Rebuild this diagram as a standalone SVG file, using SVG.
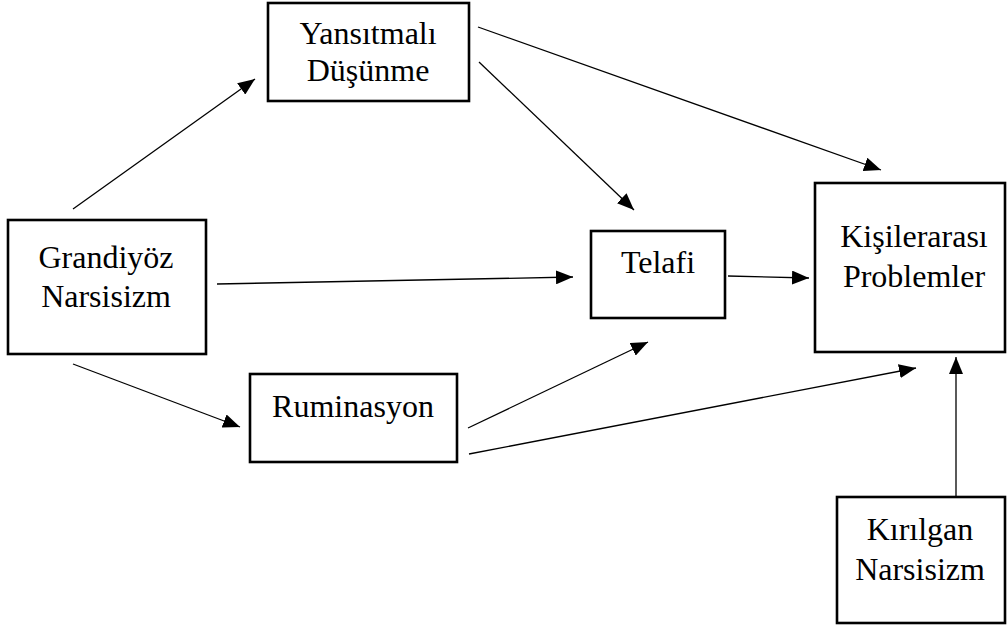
<svg xmlns="http://www.w3.org/2000/svg" width="1007" height="630" viewBox="0 0 1007 630">
<style>
.box{fill:#fff;stroke:#000;stroke-width:2.6}
.t{font-family:"Liberation Serif","Times New Roman",serif;font-size:32px;fill:#000;text-anchor:middle}
.c line{stroke:#000;stroke-width:1.3;marker-end:url(#ah)}
</style>
<defs>
<marker id="ah" markerUnits="userSpaceOnUse" markerWidth="18" markerHeight="14" refX="17" refY="7" orient="auto">
<path d="M0,0 L17,7 L0,14 z" fill="#000"/>
</marker>
</defs>
<rect width="1007" height="630" fill="#fff"/>
<g id="grandiyoz">
<rect class="box" x="8" y="220" width="198" height="134"/>
<text class="t" x="106" y="268">Grandiyöz</text>
<text class="t" x="106" y="307">Narsisizm</text>
</g>
<g id="yansitmali">
<rect class="box" x="268" y="3" width="201" height="98"/>
<text class="t" x="368" y="44">Yansıtmalı</text>
<text class="t" x="368" y="81">Düşünme</text>
</g>
<g id="telafi">
<rect class="box" x="591" y="231" width="134" height="87"/>
<text class="t" x="658" y="273">Telafi</text>
</g>
<g id="kisilerarasi">
<rect class="box" x="815" y="183" width="190" height="169"/>
<text class="t" x="914" y="247">Kişilerarası</text>
<text class="t" x="914" y="287">Problemler</text>
</g>
<g id="ruminasyon">
<rect class="box" x="250" y="374" width="207" height="88"/>
<text class="t" x="353" y="417">Ruminasyon</text>
</g>
<g id="kirilgan">
<rect class="box" x="837" y="497" width="168" height="126"/>
<text class="t" x="920" y="540">Kırılgan</text>
<text class="t" x="920" y="580">Narsisizm</text>
</g>
<g id="connectors" class="c">
<line x1="73" y1="209" x2="255" y2="79"/>
<line x1="478" y1="27" x2="881" y2="170"/>
<line x1="479" y1="62" x2="634" y2="210"/>
<line x1="217" y1="284" x2="573" y2="277"/>
<line x1="728" y1="276" x2="809" y2="278"/>
<line x1="73" y1="364" x2="240" y2="427"/>
<line x1="468" y1="428" x2="648" y2="342"/>
<line x1="469" y1="454" x2="916" y2="368"/>
<line x1="956" y1="496" x2="956" y2="357"/>
</g>
</svg>
